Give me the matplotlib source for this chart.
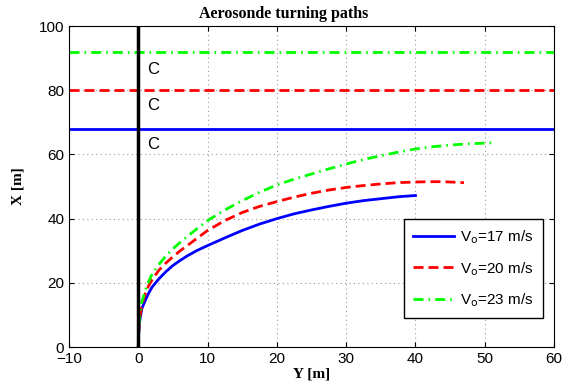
import numpy as np
import matplotlib.pyplot as plt

# turning paths: Y [m] (horizontal), X [m] (vertical)
y17 = [0, 0.05, 0.2, 0.5, 1, 1.5, 2, 3, 4, 5, 6, 7, 8.5, 10, 12.5, 15, 17.5, 20,
       22.5, 25, 27.5, 30, 32.5, 35, 37.5, 40]
x17 = [0, 4, 8, 11.9, 14.5, 16.8, 18.7, 21.3, 23.5, 25.4, 26.9, 28.3, 30.1, 31.6, 34.0,
       36.3, 38.3, 40.0, 41.5, 42.7, 43.8, 44.8, 45.6, 46.2, 46.8, 47.2]

y20 = [0, 0.05, 0.2, 0.5, 1, 1.5, 2, 3, 4, 5, 6, 7, 8.5, 10, 12.5, 15, 17.5, 20,
       22.5, 25, 27.5, 30, 32.5, 35, 37.5, 40, 42, 44, 47]
x20 = [0, 4.5, 9, 13, 16.6, 19.1, 21.0, 24.0, 26.2, 28.1, 29.9, 31.5, 33.9, 36.3, 39.4,
       41.9, 43.8, 45.3, 46.7, 47.9, 48.9, 49.7, 50.3, 50.8, 51.2, 51.4, 51.5, 51.5, 51.2]

y23 = [0, 0.05, 0.2, 0.5, 1, 1.5, 2, 3, 4, 5, 6, 7, 8.5, 10, 12.5, 15, 17.5, 20,
       22.5, 25, 27.5, 30, 32.5, 35, 37.5, 40, 42.5, 45, 47.5, 50, 51]
x23 = [0, 5, 10, 14, 17.6, 20.4, 22.8, 25.8, 28.4, 30.6, 32.5, 34.3, 36.9, 39.4, 42.7,
       45.6, 48.2, 50.5, 52.3, 53.9, 55.5, 57.0, 58.4, 59.6, 60.7, 61.7, 62.4, 62.9, 63.3,
       63.5, 63.6]

# centre lines
c_lines = [68, 80, 92]
c_text_x = [86.6, 75.2, 63.1]

speeds = [17, 20, 23]
colors = ['#0000ff', '#ff0000', '#00ff00']
styles = ['-', (0, (3.6, 1.8)), (0, (3.6, 1.8, 0.6, 1.8))]

fig = plt.figure(figsize=(5.74, 3.91), dpi=100)
ax = fig.add_axes([0.1202, 0.1125, 0.845, 0.821])

paths = [(y17, x17), (y20, x20), (y23, x23)]
for (yy, xx), v, c, ls in zip(paths, speeds, colors, styles):
    ax.plot(yy, xx, color=c, linestyle=ls, linewidth=2, label=r'V$_{\rm o}$=%d m/s' % v)

for h, c, ls in zip(c_lines, colors, styles):
    ax.axhline(h, color=c, linestyle=ls, linewidth=2)

ax.axvline(0, color='black', linewidth=2.5)

for ty in c_text_x:
    ax.text(1.3, ty, 'C', fontsize=12, va='center', ha='left', family='Liberation Sans')

ax.set_xlim(-10, 60)
ax.set_ylim(0, 100)
ax.set_xticks(np.arange(-10, 61, 10))
ax.set_yticks(np.arange(0, 101, 20))
ax.grid(True, linestyle=(0, (1, 3)), color='#999999', linewidth=0.8)
ax.tick_params(direction='in', top=True, right=True, labelsize=11)
for lab in ax.get_xticklabels() + ax.get_yticklabels():
    lab.set_family('Liberation Sans')

ax.set_title('Aerosonde turning paths', family='Liberation Serif', fontweight='bold',
             fontsize=11.5, pad=6, x=0.443)
ax.set_xlabel('Y [m]', family='Liberation Serif', fontweight='bold', fontsize=11, labelpad=1)
ax.set_ylabel('X [m]', family='Liberation Serif', fontweight='bold', fontsize=11, labelpad=10)

leg = ax.legend(loc='lower right', bbox_to_anchor=(0.977, 0.09), borderaxespad=0,
                fancybox=False, edgecolor='black', framealpha=1,
                prop={'family': 'Liberation Sans', 'size': 11},
                handlelength=2.7, handletextpad=0.4, borderpad=0.6, labelspacing=0.9)
leg.get_frame().set_linewidth(1)

fig.savefig('out.png', dpi=100)
